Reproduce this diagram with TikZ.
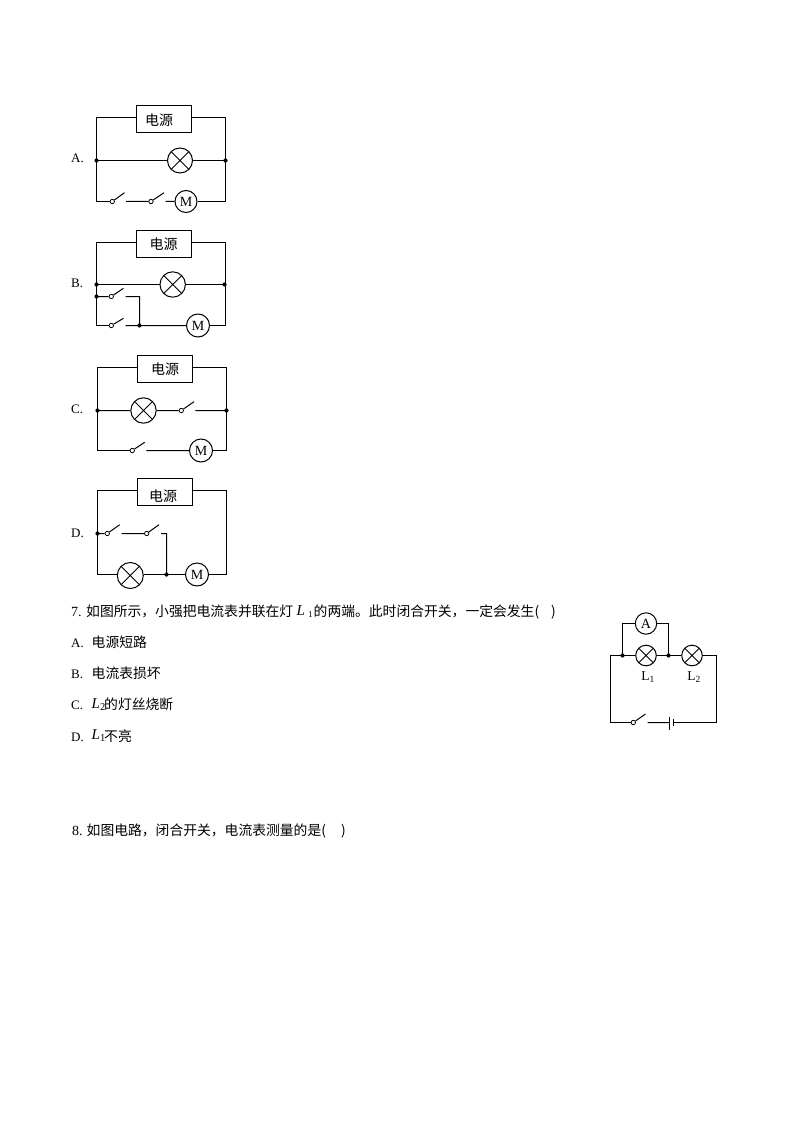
\documentclass[tikz,border=0pt]{standalone}
\usepackage{fontspec}
\setmainfont{Liberation Serif}
\newfontfamily\cjk{Noto Sans CJK SC}
\tikzset{
  x=1pt,y=-1pt,
  wire/.style={draw=black,line width=1pt},
  psbox/.style={draw=black,line width=1pt,fill=white,rectangle,inner sep=0pt,font=\fontsize{14}{14}\cjk},
  lamp/.style={draw=black,line width=1pt,circle,inner sep=0pt,minimum size=#1,fill=white,
    path picture={\draw[line width=0.9pt] (path picture bounding box.north west)--(path picture bounding box.south east)
      (path picture bounding box.north east)--(path picture bounding box.south west);}},
  meter/.style={draw=black,line width=1pt,circle,inner sep=0pt,minimum size=#1,fill=white,font=\fontsize{14}{14}\selectfont},
  dotn/.style={fill=black,circle,inner sep=0pt,minimum size=4.2pt},
  pivot/.style={draw=black,line width=0.8pt,circle,inner sep=0pt,minimum size=4.4pt,fill=white},
  txt/.style={anchor=base west,inner sep=0pt,font=\fontsize{13.8}{14}\cjk},
  lat/.style={anchor=base west,inner sep=0pt,font=\fontsize{13}{14}\selectfont},
  lampcap/.style={anchor=base,inner sep=0pt,font=\fontsize{13.5}{14}\selectfont},
}
\begin{document}
\begin{tikzpicture}
\useasboundingbox (0,0) rectangle (794,1123);
\fill[white] (0,0) rectangle (794,1123);

% ---------- A
\node[psbox,minimum width=55pt,minimum height=27pt] (psA) at (164,119) {};
\node[inner sep=0pt,font=\fontsize{14}{14}\cjk] (psAt) at (159,120) {电源};
\coordinate (aT) at (164,117.5);
\coordinate (aL) at (96.5,160.5); \coordinate (aR) at (225.5,160.5);
\node[lamp=25pt] (aLamp) at (180,160.5) {};
\node[pivot] (aS1) at (112.3,201.5) {};
\node[pivot] (aS2) at (151,201.5) {};
\coordinate (aS1t) at (124.5,192.7); \coordinate (aS1r) at (126,201.5);
\coordinate (aS2t) at (164,192.7); \coordinate (aS2r) at (165.5,201.5);
\node[meter=22pt] (aM) at (186,201.5) {M};
\draw[wire] (psA.west |- aT) -| (aL) |- (aS1.west);
\draw[wire] (psA.east |- aT) -| (aR) |- (aM.east);
\draw[wire] (aL) -- (aLamp.west) (aLamp.east) -- (aR);
\draw[wire] (aS1) -- (aS1t) (aS1r) -- (aS2.west) (aS2) -- (aS2t) (aS2r) -- (aM.west);
\node[dotn] (aDL) at (aL) {}; \node[dotn] (aDR) at (aR) {};
\node[lat] (aLab) at (71,162.7) {A.};

% ---------- B
\node[psbox,minimum width=55pt,minimum height=27pt] (psB) at (164,244) {};
\node[inner sep=0pt,font=\fontsize{14}{14}\cjk] (psBt) at (163.5,244.5) {电源};
\coordinate (bT) at (164,242.5);
\coordinate (bL) at (96.5,284.5); \coordinate (bR) at (225.5,284.5);
\coordinate (bL2) at (96.5,296.5); \coordinate (bJ) at (139.5,325.5);
\node[lamp=25.4pt] (bLamp) at (172.7,284.5) {};
\node[pivot] (bS1) at (111.3,296.5) {};
\node[pivot] (bS2) at (111.3,325.5) {};
\coordinate (bS1t) at (123.5,288.3); \coordinate (bS1r) at (125.7,296.5);
\coordinate (bS2t) at (123.5,318.3); \coordinate (bS2r) at (125.7,325.5);
\node[meter=23pt] (bM) at (198,325.5) {M};
\draw[wire] (psB.west |- bT) -| (bL) -- (bL2) |- (bS2.west);
\draw[wire] (psB.east |- bT) -| (bR) |- (bM.east);
\draw[wire] (bL) -- (bLamp.west) (bLamp.east) -- (bR);
\draw[wire] (bL2) -- (bS1.west) (bS1) -- (bS1t) (bS1r) -| (bJ);
\draw[wire] (bS2) -- (bS2t) (bS2r) -- (bJ) -- (bM.west);
\node[dotn] (bD1) at (bL) {}; \node[dotn] (bD2) at (bL2) {};
\node[dotn] (bD3) at (224.5,284.5) {}; \node[dotn] (bD4) at (bJ) {};
\node[lat] (bLab) at (71,287.7) {B.};

% ---------- C
\node[psbox,minimum width=55pt,minimum height=27pt] (psC) at (165,369) {};
\node[inner sep=0pt,font=\fontsize{14}{14}\cjk] (psCt) at (165,369.5) {电源};
\coordinate (cT) at (165,367.5);
\coordinate (cL) at (97.5,410.5); \coordinate (cR) at (226.5,410.5);
\node[lamp=25.4pt] (cLamp) at (143.5,410.5) {};
\node[pivot] (cS1) at (181.3,410.5) {};
\coordinate (cS1t) at (194,401.7); \coordinate (cS1r) at (195.3,410.5);
\node[pivot] (cS2) at (132.3,450.5) {};
\coordinate (cS2t) at (144.7,442.3); \coordinate (cS2r) at (146.3,450.5);
\node[meter=23pt] (cM) at (201,450.5) {M};
\draw[wire] (psC.west |- cT) -| (cL) |- (cS2.west);
\draw[wire] (psC.east |- cT) -| (cR) |- (cM.east);
\draw[wire] (cL) -- (cLamp.west) (cLamp.east) -- (cS1.west) (cS1) -- (cS1t) (cS1r) -- (cR);
\draw[wire] (cS2) -- (cS2t) (cS2r) -- (cM.west);
\node[dotn] (cD1) at (cL) {}; \node[dotn] (cD2) at (cR) {};
\node[lat] (cLab) at (71,413.3) {C.};

% ---------- D
\node[psbox,minimum width=55pt,minimum height=27pt] (psD) at (165,492) {};
\node[inner sep=0pt,font=\fontsize{14}{14}\cjk] (psDt) at (163,496.5) {电源};
\coordinate (dT) at (165,490.5);
\coordinate (dL) at (97.5,533.5); \coordinate (dR) at (226.5,533.5);
\coordinate (dJ) at (166.5,574.5);
\node[pivot] (dS1) at (107.3,533.5) {};
\node[pivot] (dS2) at (146.7,533.5) {};
\coordinate (dS1t) at (119.7,524.7); \coordinate (dS1r) at (121.7,533.5);
\coordinate (dS2t) at (159,524.7); \coordinate (dS2r) at (161,533.5);
\node[lamp=26pt] (dLamp) at (130.3,575.5) {};
\node[meter=23pt] (dM) at (197,574.5) {M};
\draw[wire] (psD.west |- dT) -| (dL) |- (dLamp.west |- dJ);
\draw[wire] (psD.east |- dT) -| (dR) |- (dM.east);
\draw[wire] (dL) -- (dS1.west) (dS1) -- (dS1t) (dS1r) -- (dS2.west) (dS2) -- (dS2t) (dS2r) -| (dJ);
\draw[wire] (dLamp.east |- dJ) -- (dJ) -- (dM.west);
\node[dotn] (dD1) at (dL) {}; \node[dotn] (dD2) at (dJ) {};
\node[lat] (dLab) at (71,537.7) {D.};

% ---------- question 7 text
\node[lat,font=\fontsize{14}{14}\selectfont] (q7n) at (71,616.7) {7.};
\node[txt] (q7a) at (86,616.7) {如图所示，小强把电流表并联在灯};
\node[anchor=base west,inner sep=0pt,font=\fontsize{15}{15}\selectfont] (q7l) at (296.5,615) {\textit{L}};
\node[anchor=base west,inner sep=0pt,font=\fontsize{9}{9}\selectfont] (q7s) at (308,617) {1};
\node[txt] (q7b) at (313.5,616.7) {的两端。此时闭合开关，一定会发生(};
\node[txt] (q7c) at (551,616.7) {)};
\node[lat] (o1) at (71,647) {A.};
\node[txt] (o1t) at (91.5,647) {电源短路};
\node[lat] (o2) at (71,678) {B.};
\node[txt] (o2t) at (91.5,678) {电流表损坏};
\node[lat] (o3) at (71,709.5) {C.};
\node[anchor=base west,inner sep=0pt,font=\fontsize{15}{15}\selectfont] (o3l) at (91.5,708.5) {\textit{L}\textsubscript{2}};
\node[txt] (o3t) at (104,709.5) {的灯丝烧断};
\node[lat] (o4) at (71,741) {D.};
\node[anchor=base west,inner sep=0pt,font=\fontsize{15}{15}\selectfont] (o4l) at (91.5,739.5) {\textit{L}\textsubscript{1}};
\node[txt] (o4t) at (104,741) {不亮};

% ---------- circuit 7
\coordinate (eL) at (610.5,655.5); \coordinate (eR) at (716.5,655.5);
\coordinate (eJ1) at (622.5,655.5); \coordinate (eJ2) at (668.5,655.5);
\node[lamp=20.6pt] (eL1) at (646,655.5) {};
\node[lamp=20.6pt] (eL2) at (692,655.5) {};
\node[meter=21.4pt] (eA) at (646,623.5) {A};
\node[pivot] (eS) at (633.3,722.5) {};
\coordinate (eSt) at (645.5,714); \coordinate (eSr) at (647.7,722.5);
\coordinate (eP1) at (669.5,722.5); \coordinate (eP2) at (673.5,722.5);
\coordinate (eP1a) at (669.5,716.5); \coordinate (eP1b) at (669.5,729.5);
\coordinate (eP2a) at (673.5,719); \coordinate (eP2b) at (673.5,726);
\draw[wire] (eJ1) |- (eA.west) (eA.east) -| (eJ2);
\draw[wire] (eL1.west) -- (eL) |- (eS.west);
\draw[wire] (eL1.east) -- (eL2.west) (eL2.east) -- (eR) |- (eP2);
\draw[wire] (eS) -- (eSt) (eSr) -- (eP1);
\draw[wire] (eP1a) -- (eP1b) (eP2a) -- (eP2b);
\node[dotn] (eD1) at (eJ1) {}; \node[dotn] (eD2) at (eJ2) {};
\node[lampcap] (eT1) at (648,680) {L\textsubscript{1}};
\node[lampcap] (eT2) at (694,680) {L\textsubscript{2}};

% ---------- question 8
\node[lat,font=\fontsize{14}{14}\selectfont] (q8n) at (72,835.7) {8.};
\node[txt] (q8a) at (86.5,835.7) {如图电路，闭合开关，电流表测量的是(};
\node[txt] (q8b) at (341,835.7) {)};
\end{tikzpicture}
\end{document}
